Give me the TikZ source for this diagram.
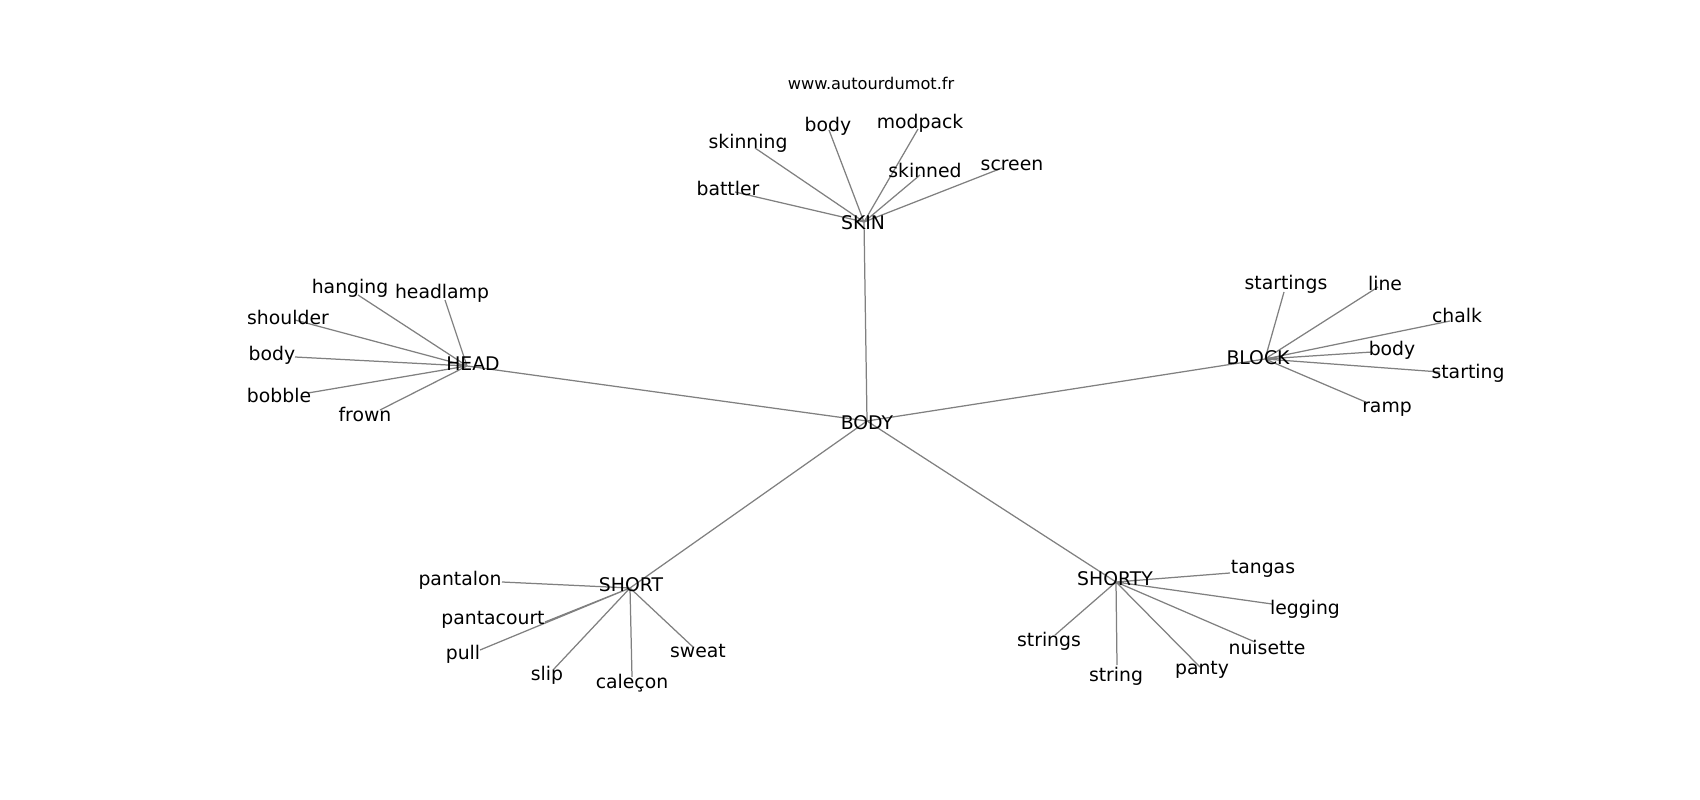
\documentclass[tikz,border=0pt]{standalone}
\usepackage{fontspec}
\setmainfont{DejaVu Sans}
\usepackage{xcolor}
\usepackage{tikz}
\usetikzlibrary{backgrounds}
\definecolor{edgegray}{RGB}{128,128,128}
\definecolor{worddark}{RGB}{0,0,0}
\tikzset{
  word/.style={inner sep=0pt, text=worddark, font=\fontsize{13.6}{16}\selectfont},
  site/.style={inner sep=0pt, text=worddark, font=\fontsize{11.7}{14}\selectfont},
  edge/.style={draw=edgegray, line width=0.9pt}
}

\begin{document}
\begin{tikzpicture}[x=0.0254cm, y=-0.0254cm]
  \useasboundingbox (0,0) rectangle (1700,800);
  \node[site] (site) at (871,83) {www.autourdumot.fr};

  % centre and hubs
  \path (867,421) coordinate (bodyV) ++(0,2) node[word] (body) {BODY};
  \path (864,222) coordinate (skinV) ++(-1,1) node[word] (skin) {SKIN};
  \path (467,366) coordinate (headV) ++(6,-2) node[word] (head) {HEAD};
  \path (1265,359) coordinate (blockV) ++(-7,-1) node[word] (block) {BLOCK};
  \path (630,588) coordinate (shortV) ++(1,-3) node[word] (short) {SHORT};
  \path (1116,582) coordinate (shortyV) ++(-1,-3) node[word] (shorty) {SHORTY};

  % skin
  \path (829,130) coordinate (skinBodyV) ++(-1,-4) node[word] (skinBody) {body};
  \path (918,129) coordinate (modpackV) ++(2,-6) node[word] (modpack) {modpack};
  \path (755,148) coordinate (skinningV) ++(-7,-5) node[word] (skinning) {skinning};
  \path (920,175) coordinate (skinnedV) ++(5,-5) node[word] (skinned) {skinned};
  \path (735,192) coordinate (battlerV) ++(-7,-4) node[word] (battler) {battler};
  \path (1002,168) coordinate (screenV) ++(10,-3) node[word] (screen) {screen};

  % head
  \path (358,295) coordinate (hangingV) ++(-8,-7) node[word] (hanging) {hanging};
  \path (445,300) coordinate (headlampV) ++(-3,-7) node[word] (headlamp) {headlamp};
  \path (295,320) coordinate (shoulderV) ++(-7,-3) node[word] (shoulder) {shoulder};
  \path (295,357) coordinate (headBodyV) ++(-23,-2) node[word] (headBody) {body};
  \path (308,393) coordinate (bobbleV) ++(-29,2) node[word] (bobble) {bobble};
  \path (380,410) coordinate (frownV) ++(-15,4) node[word] (frown) {frown};

  % block
  \path (1284,292) coordinate (startingsV) ++(2,-8) node[word] (startings) {startings};
  \path (1378,287) coordinate (lineV) ++(7,-4) node[word] (line) {line};
  \path (1450,321) coordinate (chalkV) ++(7,-6) node[word] (chalk) {chalk};
  \path (1372,352) coordinate (blockBodyV) ++(20,-2) node[word] (blockBody) {body};
  \path (1440,372) coordinate (startingV) ++(28,1) node[word] (starting) {starting};
  \path (1368,403) coordinate (rampV) ++(19,6) node[word] (ramp) {ramp};

  % short
  \path (502,582) coordinate (pantalonV) ++(-42,-2) node[word] (pantalon) {pantalon};
  \path (545,622) coordinate (pantacourtV) ++(-52,-2) node[word] (pantacourt) {pantacourt};
  \path (480,650) coordinate (pullV) ++(-17,4) node[word] (pull) {pull};
  \path (553,670) coordinate (slipV) ++(-6,5) node[word] (slip) {slip};
  \path (632,677) coordinate (caleconV) ++(0,6) node[word] (calecon) {caleçon};
  \path (693,647) coordinate (sweatV) ++(5,4) node[word] (sweat) {sweat};

  % shorty
  \path (1230,573) coordinate (tangasV) ++(33,-4) node[word] (tangas) {tangas};
  \path (1272,604) coordinate (leggingV) ++(33,5) node[word] (legging) {legging};
  \path (1255,642) coordinate (nuisetteV) ++(12,5) node[word] (nuisette) {nuisette};
  \path (1200,667) coordinate (pantyV) ++(2,3) node[word] (panty) {panty};
  \path (1117,665) coordinate (stringV) ++(-1,11) node[word] (string) {string};
  \path (1055,635) coordinate (stringsV) ++(-6,6) node[word] (strings) {strings};

  \begin{scope}[on background layer]
    \draw[edge] (bodyV) -- (skinV) (bodyV) -- (headV) (bodyV) -- (blockV)
      (bodyV) -- (shortV) (bodyV) -- (shortyV);
    \draw[edge] (skinV) -- (skinBodyV) (skinV) -- (modpackV) (skinV) -- (skinningV)
      (skinV) -- (skinnedV) (skinV) -- (battlerV) (skinV) -- (screenV);
    \draw[edge] (headV) -- (hangingV) (headV) -- (headlampV) (headV) -- (shoulderV)
      (headV) -- (headBodyV) (headV) -- (bobbleV) (headV) -- (frownV);
    \draw[edge] (blockV) -- (startingsV) (blockV) -- (lineV) (blockV) -- (chalkV)
      (blockV) -- (blockBodyV) (blockV) -- (startingV) (blockV) -- (rampV);
    \draw[edge] (shortV) -- (pantalonV) (shortV) -- (pantacourtV) (shortV) -- (pullV)
      (shortV) -- (slipV) (shortV) -- (caleconV) (shortV) -- (sweatV);
    \draw[edge] (shortyV) -- (tangasV) (shortyV) -- (leggingV) (shortyV) -- (nuisetteV)
      (shortyV) -- (pantyV) (shortyV) -- (stringV) (shortyV) -- (stringsV);
  \end{scope}
\end{tikzpicture}
\end{document}
